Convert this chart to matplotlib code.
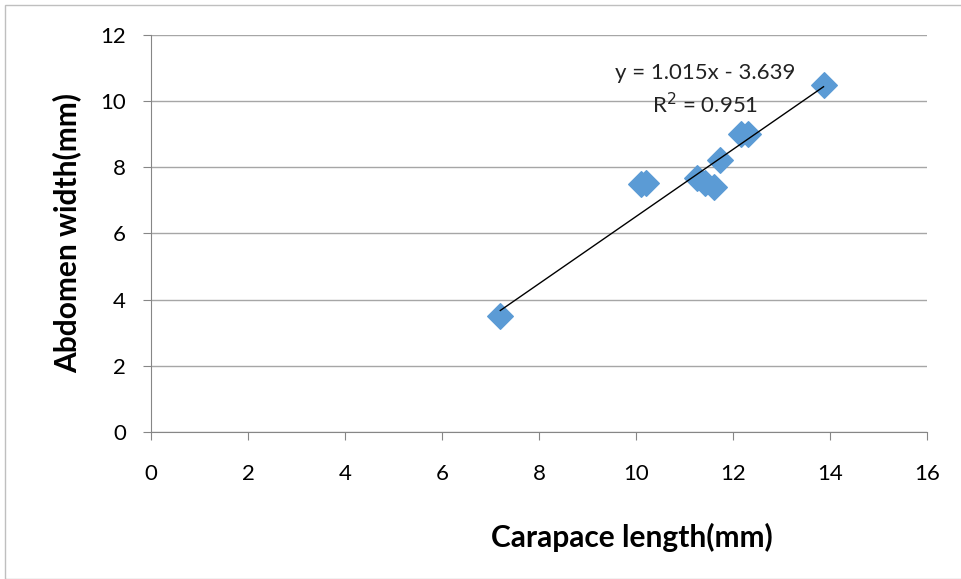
"""
Carapace length vs abdomen width scatter with linear trendline -> out.png
"""
import matplotlib.pyplot as plt
from matplotlib.patches import Rectangle

carapace_mm = [7.2, 10.1, 10.2, 11.25, 11.42, 11.6, 11.72, 12.15, 12.3, 13.86]
abdomen_mm = [3.5, 7.5, 7.52, 7.66, 7.53, 7.41, 8.22, 9.0, 9.0, 10.48]

slope = 1.015
intercept = -3.639
r2 = 0.951

x_ticks = [0, 2, 4, 6, 8, 10, 12, 14, 16]
y_ticks = [0, 2, 4, 6, 8, 10, 12]

plt.rcParams["font.family"] = ["Lato", "DejaVu Sans"]

fig = plt.figure(figsize=(9.61, 5.79), dpi=100)
ax = fig.add_axes([0.157, 0.254, 0.808, 0.686])

# outer chart border
fig.patches.append(Rectangle((5 / 961, 0), 1, 1 - 5 / 579, transform=fig.transFigure,
                             fill=False, edgecolor="#bfbfbf", linewidth=1))

ax.scatter(carapace_mm, abdomen_mm, marker="D", s=170, color="#5B9BD5",
           edgecolors="#5B9BD5", zorder=3)

x0, x1 = min(carapace_mm), max(carapace_mm)
ax.plot([x0, x1], [slope * x0 + intercept, slope * x1 + intercept],
        color="black", linewidth=1, zorder=4)

ax.text(11.42, 10.85, f"y = {slope:.3f}x - {abs(intercept):.3f}", ha="center",
        va="center", fontsize=16, color="#222222")
ax.text(11.42, 9.88, f"R$^2$ = {r2:.3f}", ha="center", va="center",
        fontsize=16, color="#222222")

ax.set_xlim(0, 16)
ax.set_ylim(0, 12)
ax.set_xticks(x_ticks)
ax.set_yticks(y_ticks)
ax.yaxis.grid(True, color="#a6a6a6", linewidth=1)
ax.set_axisbelow(True)

for side in ["top", "right"]:
    ax.spines[side].set_visible(False)
for side in ["left", "bottom"]:
    ax.spines[side].set_color("#868686")

ax.tick_params(axis="x", direction="out", length=6, color="#868686",
               labelsize=16, pad=17)
ax.tick_params(axis="y", direction="out", length=6, color="#868686",
               labelsize=16, pad=12)

ax.set_xlabel("Carapace length(mm)", fontsize=21.5, fontweight="bold")
ax.set_ylabel("Abdomen width(mm)", fontsize=21.5, fontweight="bold")
ax.xaxis.set_label_coords(0.62, -0.23)
ax.yaxis.set_label_coords(-0.09, 0.5)

fig.savefig("out.png", dpi=100)
plt.close(fig)
print("Wrote out.png")
